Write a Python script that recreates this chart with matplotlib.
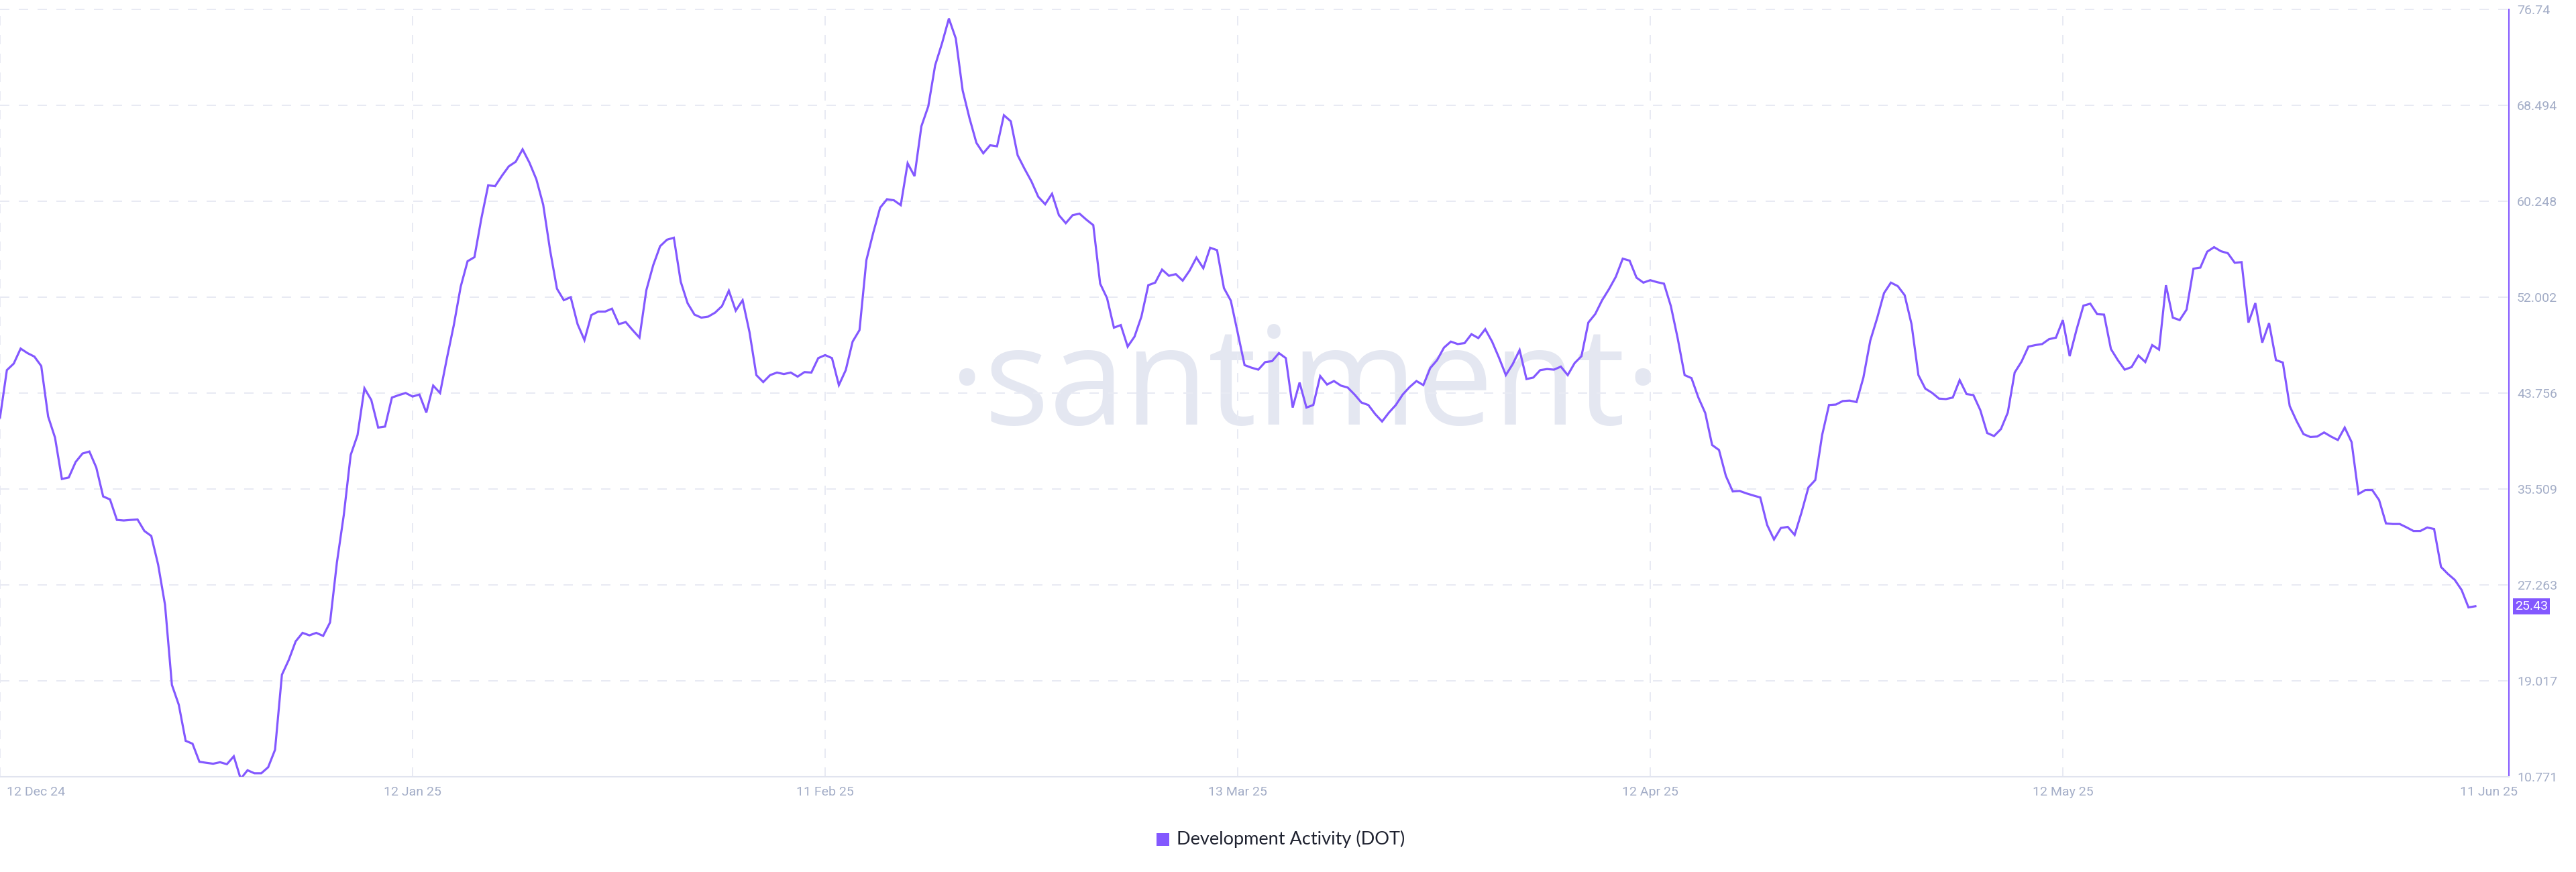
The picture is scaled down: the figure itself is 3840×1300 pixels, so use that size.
import numpy as np
import matplotlib
matplotlib.use("Agg")
import matplotlib.pyplot as plt
import matplotlib.transforms as mtransforms
from matplotlib.patches import Rectangle

# ---------------- data (half-day samples starting 12 Dec 2024) ----------------
seg_dec = [41.65, 45.73, 46.29, 47.58, 47.19, 46.89, 46.08, 41.74, 39.93, 36.37,
           36.50, 37.83, 38.56, 38.73, 37.36, 34.87, 34.61, 32.85, 32.80, 32.85,
           32.89, 31.90, 31.47, 29.00, 25.55, 18.67, 16.96, 13.86, 13.61, 12.06,
           11.97, 11.89, 12.02, 11.85, 12.53, 10.60, 11.33, 11.07, 11.07, 11.59,
           13.09, 19.54, 20.82, 22.41, 23.14, 22.93, 23.14, 22.88, 24.04, 29.20,
           33.28, 38.43, 40.15, 44.17, 43.16, 40.79, 40.88, 43.37, 43.58, 43.76,
           43.46, 43.63]
seg_jan = [42.08, 44.40, 43.76, 46.76, 49.60, 52.90, 55.09, 55.44, 58.75, 61.62,
           61.54, 62.44, 63.25, 63.64, 64.71, 63.56, 62.14, 59.95, 56.04, 52.73,
           51.74, 52.00, 49.68, 48.31, 50.46, 50.76, 50.76, 51.01, 49.68, 49.86,
           49.17, 48.52, 52.60, 54.75, 56.38, 56.94, 57.11, 53.33, 51.48, 50.50,
           50.24, 50.33, 50.67, 51.23, 52.56, 50.84, 51.74, 49.00, 45.30, 44.70,
           45.30, 45.52, 45.39, 45.52, 45.17, 45.56, 45.52, 46.76, 47.02, 46.76]
seg_feb = [44.44, 45.73, 48.18, 49.17, 55.18, 57.54, 59.69, 60.42, 60.33, 59.91,
           63.51, 62.40, 66.69, 68.40, 71.93, 73.82, 75.95, 74.25, 69.78, 67.38,
           65.27, 64.37, 65.06, 64.97, 67.64, 67.12, 64.20, 63.04, 61.96, 60.63,
           59.99, 60.89, 59.05, 58.36, 59.05, 59.18, 58.66, 58.19, 53.16, 51.92,
           49.38, 49.60, 47.75, 48.61, 50.33, 53.03, 53.25, 54.37, 53.84, 53.98,
           53.42, 54.28, 55.40, 54.49, 56.25, 56.04, 52.78, 51.70, 48.95, 46.16]
seg_mar = [45.94, 45.77, 46.42, 46.50, 47.19, 46.76, 42.51, 44.66, 42.51, 42.73,
           45.22, 44.49, 44.79, 44.40, 44.23, 43.63, 42.94, 42.73, 41.95, 41.31,
           42.08, 42.73, 43.63, 44.27, 44.79, 44.44, 45.90, 46.59, 47.66, 48.18,
           47.97, 48.05, 48.82, 48.48, 49.25, 48.18, 46.80, 45.30, 46.25, 47.45,
           44.96, 45.09, 45.73, 45.82, 45.77, 46.03, 45.30, 46.33, 46.93, 49.82,
           50.55, 51.74, 52.69, 53.76, 55.31, 55.14, 53.68, 53.25, 53.46, 53.29]
seg_apr = [53.16, 51.23, 48.44, 45.30, 45.04, 43.37, 42.04, 39.29, 38.86, 36.63,
           35.30, 35.34, 35.13, 34.95, 34.78, 32.42, 31.17, 32.16, 32.25, 31.56,
           33.49, 35.64, 36.28, 40.15, 42.73, 42.77, 43.07, 43.11, 42.98, 45.09,
           48.27, 50.20, 52.35, 53.25, 52.95, 52.17, 49.68, 45.30, 44.14, 43.77,
           43.28, 43.24, 43.37, 44.87, 43.67, 43.58, 42.29, 40.32, 40.06, 40.66,
           42.08, 45.52, 46.46, 47.75, 47.88, 47.97, 48.39, 48.52, 50.03, 46.93,
           49.21]
seg_may = [51.27, 51.44, 50.54, 50.50, 47.54, 46.59, 45.77, 45.99, 46.98, 46.42,
           47.88, 47.49, 53.03, 50.24, 50.03, 50.93, 54.45, 54.54, 55.91, 56.30,
           55.95, 55.78, 54.96, 55.01, 49.81, 51.49, 48.09, 49.77, 46.59, 46.38,
           42.64, 41.35, 40.23, 39.98, 40.02, 40.37, 40.02, 39.72, 40.79, 39.54,
           35.08, 35.42, 35.42, 34.56, 32.55, 32.50, 32.50, 32.21, 31.90, 31.90,
           32.20, 32.07, 28.81, 28.21, 27.70, 26.83, 25.33, 25.43]

values = seg_dec + seg_jan + seg_feb + seg_mar + seg_apr + seg_may
sample_step_days = 0.5
days = np.arange(len(values)) * sample_step_days

x_tick_days = [0, 30, 60, 90, 120, 150, 181]
x_tick_labels = ["12 Dec 24", "12 Jan 25", "11 Feb 25", "13 Mar 25",
                 "12 Apr 25", "12 May 25", "11 Jun 25"]
y_ticks = [10.771, 19.017, 27.263, 35.509, 43.756, 52.002, 60.248, 68.494, 76.74]
y_tick_labels = ["10.771", "19.017", "27.263", "35.509", "43.756",
                 "52.002", "60.248", "68.494", "76.74"]
last_value = 25.43
last_value_label = "25.43"
series_name = "Development Activity (DOT)"
watermark = "\u00b7santiment\u00b7"

# ---------------- style ----------------
PURPLE = "#8358ff"
GRID = "#e8eaf3"
AXLINE = "#e1e4ef"
TICK = "#a3adc7"
WM = "#e4e7f1"
LEGEND_TXT = "#1f2230"
TICK_FONT = ["Roboto", "DejaVu Sans"]

fig = plt.figure(figsize=(38.4, 13), dpi=100)
fig.patch.set_facecolor("white")
ax = fig.add_axes([0.0, 0.10923, 0.97396, 0.88])
ax.set_facecolor("white")

ax.set_xlim(0, 182.44)
ax.set_ylim(y_ticks[0], y_ticks[-1])

# grid
for yv in y_ticks[1:]:
    ax.axhline(yv, color=GRID, lw=1.44, dashes=(7, 7), zorder=0.5, clip_on=False)
for xv in x_tick_days[:-1]:
    ax.axvline(xv, color=GRID, lw=1.44, dashes=(7, 7), zorder=0.5, clip_on=False)

# watermark (behind the line)
ax.text(0.5065, 0.5131, watermark, transform=fig.transFigure, fontsize=146,
        color=WM, ha="center", va="baseline", family=["Open Sans", "DejaVu Sans"],
        fontweight="medium", zorder=0.3, clip_on=False)

# line
ax.plot(days, values, color=PURPLE, lw=2.3, solid_joinstyle="miter", zorder=3)

# spines
for s in ("top", "left"):
    ax.spines[s].set_visible(False)
ax.spines["right"].set_color(PURPLE)
ax.spines["right"].set_linewidth(1.5)
ax.spines["bottom"].set_color(AXLINE)
ax.spines["bottom"].set_linewidth(1.5)

# y ticks on right
ax.yaxis.tick_right()
ax.set_yticks(y_ticks)
ax.set_yticklabels(y_tick_labels, family=TICK_FONT)
ax.tick_params(axis="y", length=0, pad=8.6, labelsize=14, labelcolor=TICK)

# x tick labels drawn manually (first one left aligned)
ax.set_xticks([])
xtrans = mtransforms.blended_transform_factory(ax.transData, ax.transAxes)
for i, (d, lab) in enumerate(zip(x_tick_days, x_tick_labels)):
    ha = "left" if i == 0 else "center"
    off = mtransforms.ScaledTranslation(0.10 if i == 0 else 0.0, -0.14, fig.dpi_scale_trans)
    ax.text(d, 0, lab, transform=xtrans + off, ha=ha, va="top", fontsize=14,
            color=TICK, family=TICK_FONT, clip_on=False)

# current value badge
ytrans = mtransforms.blended_transform_factory(ax.transAxes, ax.transData)
ax.text(1.0025, last_value, last_value_label, transform=ytrans, ha="left", va="center",
        fontsize=14, color="white", family=TICK_FONT, clip_on=False,
        bbox=dict(boxstyle="square,pad=0.15", fc=PURPLE, ec="none"))

# legend
fig.patches.append(Rectangle((1724 / 3840, 1 - 1261 / 1300), 19 / 3840, 19 / 1300,
                             transform=fig.transFigure, facecolor=PURPLE,
                             edgecolor="none"))
fig.text(1754 / 3840, 1 - 1251 / 1300, series_name, ha="left", va="center",
         fontsize=19.5, color=LEGEND_TXT, family=["Lato", "DejaVu Sans"])

fig.savefig("out.png", dpi=100, facecolor="white")
